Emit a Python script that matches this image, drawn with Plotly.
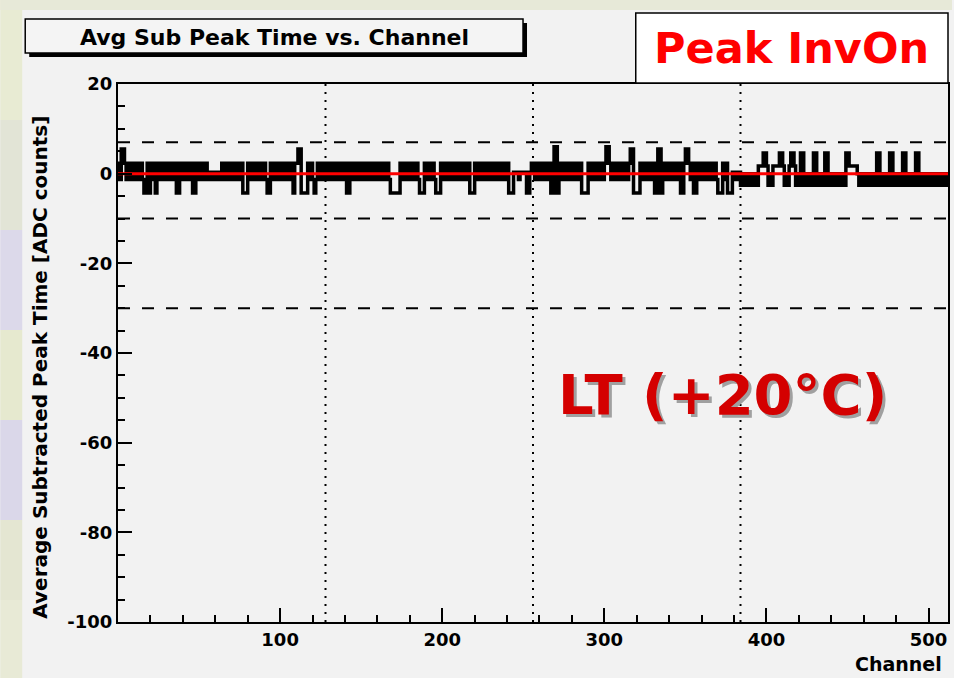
import plotly.graph_objects as go

# ---------------- data ----------------
channel_edges = list(range(0, 513))          # 512 channel bins
peak_time = [
    2.3, -1.3, 5.5, 5.5, 2.3, -1.3, 2.3, 2.3, -1.3, 2.3, -1.3, 2.3, 2.3, -1.3, 2.3, -1.3,
    -4.3, -4.3, 2.3, -4.3, -1.3, 2.3, 2.3, -4.3, -1.3, 2.3, -1.3, 2.3, 2.3, -1.3, 2.3, -1.3,
    2.3, 2.3, -1.3, 2.3, -4.3, -4.3, 2.3, -1.3, 2.3, 2.3, -1.3, 2.3, -1.3, 2.3, -4.3, -4.3,
    2.3, -1.3, 2.3, 2.3, -1.3, 2.3, 2.3, -1.3, 0.3, -1.3, 0.3, -1.3, 0.3, 0.3, -1.3, 0.3,
    2.3, -1.3, 2.3, 2.3, -1.3, 2.3, -1.3, 2.3, 2.3, -1.3, 2.3, -1.3, 2.3, -4.3, -4.3, -4.3,
    2.3, -1.3, 2.3, 2.3, -1.3, 2.3, -1.3, 2.3, 2.3, -1.3, 2.3, -1.3, -4.3, -4.3, 2.3, -1.3,
    2.3, 2.3, -1.3, 2.3, -1.3, 2.3, 2.3, -1.3, 2.3, -1.3, 2.3, -1.3, -4.3, 2.3, 2.3, 5.5,
    5.5, -4.3, -4.3, -4.3, -4.3, 2.3, -1.3, 2.3, -1.3, -4.3, -1.3, 2.3, -1.3, 2.3, 2.3, -1.3,
    2.3, -1.3, 2.3, 2.3, -1.3, 2.3, -1.3, 2.3, 2.3, -1.3, 2.3, -1.3, 2.3, -4.3, -4.3, 2.3,
    -1.3, 2.3, 2.3, -1.3, 2.3, -1.3, 2.3, 2.3, -1.3, 2.3, -1.3, 2.3, 2.3, -1.3, 2.3, -1.3,
    2.3, 2.3, -1.3, 2.3, -1.3, 2.3, 2.3, -1.3, -4.3, -4.3, -4.3, -4.3, -4.3, -4.3, 2.3, -1.3,
    2.3, 2.3, -1.3, 2.3, -1.3, 2.3, 2.3, -1.3, 2.3, -1.3, -4.3, -4.3, -4.3, 2.3, -1.3, 2.3,
    2.3, -1.3, 2.3, -1.3, -4.3, -4.3, -4.3, 2.3, -1.3, 2.3, 2.3, -1.3, 2.3, -1.3, 2.3, 2.3,
    -1.3, 2.3, -1.3, 2.3, 2.3, -1.3, 2.3, -1.3, 2.3, -4.3, -4.3, -4.3, 2.3, -1.3, 2.3, 2.3,
    -1.3, 2.3, -1.3, 2.3, 2.3, -1.3, 2.3, -1.3, 2.3, 2.3, -1.3, 2.3, -1.3, 2.3, 2.3, -1.3,
    2.3, -4.3, -4.3, -4.3, 0.3, 0.3, 0.3, -1.3, 0.3, 0.3, 0.3, 0.3, -4.3, -4.3, 0.3, 2.3,
    2.3, -1.3, 2.3, 2.3, -1.3, 2.3, -1.3, 2.3, 2.3, -1.3, 2.3, -4.3, -4.3, 6.0, 6.0, -4.3,
    2.3, -1.3, 2.3, 2.3, -1.3, 2.3, 2.3, -1.3, 2.3, 2.3, -1.3, 2.3, -1.3, 2.3, -4.3, -4.3,
    -4.3, -4.3, 2.3, -1.3, 2.3, 2.3, -1.3, 2.3, -1.3, 2.3, 2.3, -1.3, 2.3, 6.0, 6.0, 2.3,
    -1.3, 2.3, 2.3, -1.3, 2.3, -1.3, 2.3, 2.3, -1.3, 2.3, -1.3, 2.3, 5.5, 5.5, -4.3, -4.3,
    -4.3, -4.3, 2.3, -1.3, 2.3, 2.3, -1.3, 2.3, -1.3, 2.3, 2.3, -4.3, -4.3, 5.5, 5.5, -4.3,
    2.3, -1.3, 2.3, 2.3, -1.3, 2.3, -1.3, 2.3, 2.3, -1.3, 2.3, -4.3, -4.3, 2.3, 5.5, 5.5,
    2.3, -1.3, 2.3, -4.3, -4.3, 2.3, -1.3, 2.3, 2.3, -1.3, 2.3, 2.3, -1.3, 2.3, -1.3, 2.3,
    2.3, -1.3, -4.3, -4.3, -4.3, 2.3, -1.3, 2.3, -4.3, -4.3, -4.3, 0.3, 0.3, -1.3, 0.3, 0.3,
    -2.6, 0.0, -2.6, -2.6, 0.0, -2.6, 0.0, -2.6, -2.6, 0.0, -2.6, 1.7, 1.7, 1.7, 4.6, 4.6,
    1.7, -2.6, 0.0, -2.6, 1.7, 1.7, 1.7, 1.7, 4.6, 4.6, 1.7, -2.6, 0.0, -2.6, 1.7, 4.6,
    4.6, 1.7, -2.6, 0.0, -2.6, 4.6, 4.6, -2.6, 0.0, -2.6, -2.6, 0.0, -2.6, 4.6, 4.6, -2.6,
    0.0, -2.6, 0.0, -2.6, 4.6, 4.6, -2.6, 0.0, -2.6, -2.6, 0.0, -2.6, 0.0, -2.6, -2.6, 0.0,
    -2.6, 4.6, 4.6, 1.7, 1.7, 1.7, 1.7, 1.7, 0.0, -2.6, 0.0, -2.6, -2.6, 0.0, -2.6, 0.0,
    -2.6, -2.6, 0.0, -2.6, 4.6, 4.6, -2.6, 0.0, -2.6, -2.6, 0.0, -2.6, 4.6, 4.6, -2.6, 0.0,
    -2.6, -2.6, 0.0, -2.6, 4.6, 4.6, -2.6, 0.0, -2.6, -2.6, 0.0, -2.6, 4.6, 4.6, -2.6, 0.0,
    -2.6, -2.6, 0.0, -2.6, 0.0, -2.6, -2.6, 0.0, -2.6, 0.0, -2.6, -2.6, 0.0, -2.6, 0.0, -2.6,
]
fit_mean = 0.0
limit_levels = [7, -10, -30]
section_bounds = [128, 256, 384]
x_range = [0, 512]
y_range = [-100, 20]
x_tick_vals = [0, 100, 200, 300, 400, 500]
x_tick_text = ["", "100", "200", "300", "400", "500"]
y_tick_vals = [-100, -80, -60, -40, -20, 0, 20]
y_tick_text = ["-100", "-80", "-60", "-40", "-20", "0", "20"]

title_text = "Avg Sub Peak Time vs. Channel"
label_text = "Peak InvOn"
temp_text = "LT (+20°C)"
x_title = "Channel"
y_title = "Average Subtracted Peak Time [ADC counts]"

# ---------------- layout helpers ----------------
W, H = 954, 678
ML, MR, MT, MB = 118, 4, 84, 56
PW, PH = W - ML - MR, H - MT - MB
FONT = "DejaVu Sans"
BG = "#f2f2f2"


def fx(px):
    return (px - ML) / PW


def fy(py):
    return (H - MB - py) / PH


x_step = channel_edges
y_step = peak_time + [peak_time[-1]]

fig = go.Figure()
fig.add_trace(go.Scatter(
    x=x_step, y=y_step, mode="lines",
    line=dict(shape="hv", color="black", width=3.5),
    hoverinfo="skip", showlegend=False))
fig.add_trace(go.Scatter(
    x=[channel_edges[0], channel_edges[-1]], y=[fit_mean, fit_mean], mode="lines",
    line=dict(color="#ff0000", width=3),
    hoverinfo="skip", showlegend=False))

shapes = []
# background picture strips (left and top)
strip_cols = [(0, 120, "#e8ebd3"), (120, 230, "#e2e4d6"), (230, 330, "#dcd9ea"),
              (330, 420, "#e6e9cf"), (420, 520, "#dad7e9"), (520, 600, "#e4e6d2"),
              (600, 678, "#e8ead6")]
for y0, y1, c in strip_cols:
    shapes.append(dict(type="rect", xref="paper", yref="paper", x0=fx(0), x1=fx(22),
                       y0=fy(y1), y1=fy(y0), fillcolor=c, line=dict(width=0), layer="below"))
shapes.append(dict(type="rect", xref="paper", yref="paper", x0=fx(0), x1=fx(W),
                   y0=fy(10), y1=fy(0), fillcolor="#e7e9d8", line=dict(width=0), layer="below"))

# limit lines and section boundaries
for lvl in limit_levels:
    shapes.append(dict(type="line", xref="x", yref="y", x0=x_range[0], x1=x_range[1],
                       y0=lvl, y1=lvl, line=dict(color="black", width=2, dash="12px,12px"),
                       layer="below"))
for b in section_bounds:
    shapes.append(dict(type="line", xref="x", yref="y", x0=b, x1=b,
                       y0=y_range[0], y1=y_range[1],
                       line=dict(color="black", width=2, dash="2px,6px"), layer="below"))

# title box with shadow
shapes.append(dict(type="rect", xref="paper", yref="paper", x0=fx(29), x1=fx(528),
                   y0=fy(57), y1=fy(23), fillcolor="black", line=dict(width=0)))
shapes.append(dict(type="rect", xref="paper", yref="paper", x0=fx(25), x1=fx(524),
                   y0=fy(53), y1=fy(19), fillcolor="#f4f4f4",
                   line=dict(color="black", width=1.5)))
# label box
shapes.append(dict(type="rect", xref="paper", yref="paper", x0=fx(637), x1=fx(950),
                   y0=fy(83), y1=fy(13), fillcolor="#ffffff",
                   line=dict(color="black", width=1.5)))

annotations = [
    dict(text=title_text, x=fx(275), y=fy(37), xref="paper", yref="paper",
         xanchor="center", yanchor="middle", showarrow=False,
         font=dict(family=FONT, size=22, color="black", weight="bold")),
    dict(text=label_text, x=fx(793), y=fy(48), xref="paper", yref="paper",
         xanchor="center", yanchor="middle", showarrow=False,
         font=dict(family=FONT, size=43, color="#ff0000", weight="bold")),
    dict(text=temp_text, x=fx(724), y=fy(394), xref="paper", yref="paper",
         xanchor="center", yanchor="middle", showarrow=False,
         font=dict(family=FONT, size=56, color="#d40000", weight="bold",
                   shadow="3px 3px 0px #a0a0a0")),
    dict(text=y_title, x=fx(39), y=fy(114), xref="paper", yref="paper",
         xanchor="center", yanchor="top", textangle=-90, showarrow=False,
         font=dict(family=FONT, size=20, color="black", weight="bold")),
    dict(text=x_title, x=fx(946), y=fy(664), xref="paper", yref="paper",
         xanchor="right", yanchor="middle", showarrow=False,
         font=dict(family=FONT, size=19, color="black", weight="bold")),
]

fig.update_layout(
    width=W, height=H,
    margin=dict(l=ML, r=MR, t=MT, b=MB, pad=0),
    paper_bgcolor=BG, plot_bgcolor=BG,
    shapes=shapes, annotations=annotations,
    showlegend=False,
)
fig.update_xaxes(
    range=x_range, tickmode="array", tickvals=x_tick_vals, ticktext=x_tick_text,
    ticks="inside", ticklen=14, tickwidth=1.5, tickcolor="black",
    minor=dict(dtick=20, tick0=0, ticks="inside", ticklen=7, tickwidth=1.5, tickcolor="black"),
    showline=True, linecolor="black", linewidth=2, mirror=True,
    showgrid=False, zeroline=False,
    tickfont=dict(family=FONT, size=18, color="black", weight="bold"),
)
fig.update_yaxes(
    range=y_range, tickmode="array", tickvals=y_tick_vals, ticktext=y_tick_text,
    ticks="inside", ticklen=14, tickwidth=1.5, tickcolor="black",
    minor=dict(dtick=5, tick0=0, ticks="inside", ticklen=7, tickwidth=1.5, tickcolor="black"),
    showline=True, linecolor="black", linewidth=2, mirror=True,
    showgrid=False, zeroline=False,
    tickfont=dict(family=FONT, size=18, color="black", weight="bold"),
)

fig.write_html(
    "out.html",
    config={"displayModeBar": False},
    post_script="document.body.style.margin='0';document.body.style.overflow='hidden';",
)
